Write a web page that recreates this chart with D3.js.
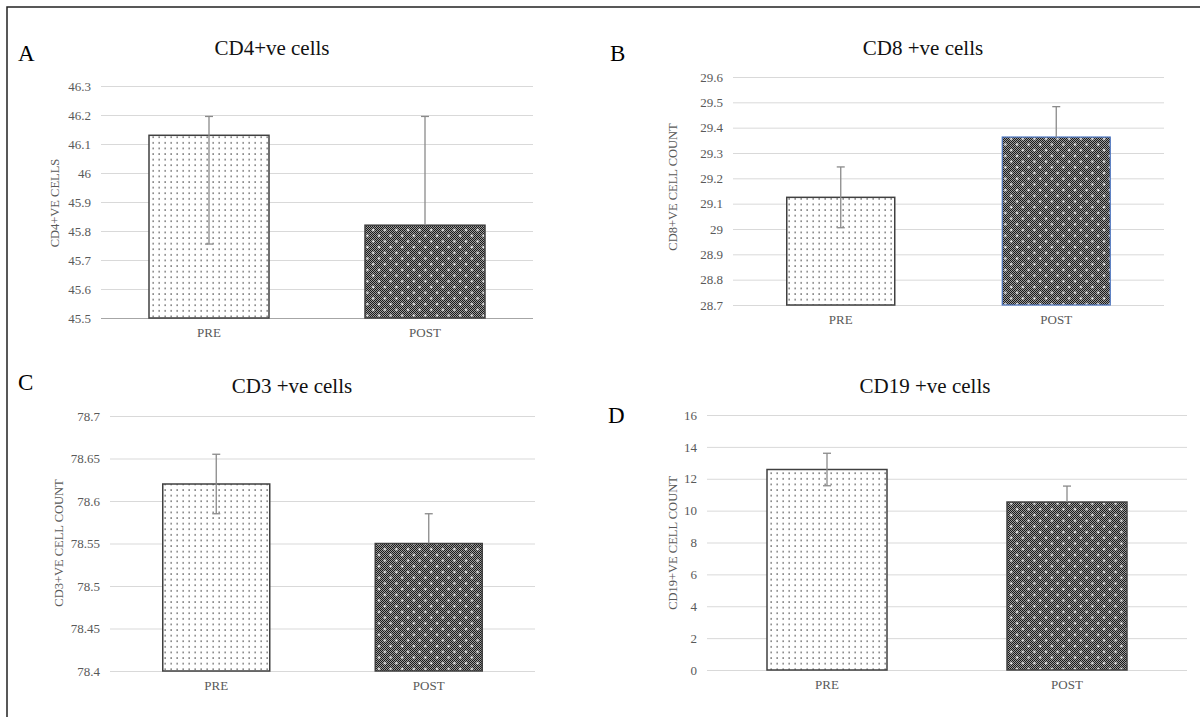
<!DOCTYPE html>
<html>
<head>
<meta charset="utf-8">
<script src="https://cdn.jsdelivr.net/npm/d3@7/dist/d3.min.js"></script>
<style>
  html, body { margin: 0; padding: 0; background: #fff; }
  svg { display: block; }
  text { font-family: "Liberation Serif", "Times New Roman", serif; }
</style>
</head>
<body>
<svg id="chart" width="1200" height="717"></svg>
<script>
// ---------- DATA ----------
const categories = ["PRE", "POST"];

const cd4Title = "CD4+ve cells";
const cd4AxisTitle = "CD4+VE CELLS";
const cd4Values = [46.13, 45.82];
const cd4ErrUp = [0.065, 0.375];
const cd4ErrDown = [0.375, 0];
const cd4Ticks = [45.5, 45.6, 45.7, 45.8, 45.9, 46, 46.1, 46.2, 46.3];

const cd8Title = "CD8 +ve cells";
const cd8AxisTitle = "CD8+VE CELL COUNT";
const cd8Values = [29.125, 29.363];
const cd8ErrUp = [0.12, 0.12];
const cd8ErrDown = [0.12, 0];
const cd8Ticks = [28.7, 28.8, 28.9, 29, 29.1, 29.2, 29.3, 29.4, 29.5, 29.6];

const cd3Title = "CD3 +ve cells";
const cd3AxisTitle = "CD3+VE CELL COUNT";
const cd3Values = [78.62, 78.55];
const cd3ErrUp = [0.035, 0.035];
const cd3ErrDown = [0.035, 0];
const cd3Ticks = [78.4, 78.45, 78.5, 78.55, 78.6, 78.65, 78.7];

const cd19Title = "CD19 +ve cells";
const cd19AxisTitle = "CD19+VE CELL COUNT";
const cd19Values = [12.58, 10.54];
const cd19ErrUp = [1.02, 1.0];
const cd19ErrDown = [1.02, 0];
const cd19Ticks = [0, 2, 4, 6, 8, 10, 12, 14, 16];

const panelLetters = ["A", "B", "C", "D"];

// ---------- LAYOUT ----------
const panels = [
  { letter: panelLetters[0], title: cd4Title, axisTitle: cd4AxisTitle, values: cd4Values, up: cd4ErrUp, down: cd4ErrDown, ticks: cd4Ticks,
    x0: 101, x1: 533, yTop: 86, yBottom: 318, barW: 120, titleX: 272, titleY: 55, letterX: 18, letterY: 61, axTX: 55, axTY: 203, axisColor: "#a6a6a6", blueSecond: false },
  { letter: panelLetters[1], title: cd8Title, axisTitle: cd8AxisTitle, values: cd8Values, up: cd8ErrUp, down: cd8ErrDown, ticks: cd8Ticks,
    x0: 733, x1: 1164, yTop: 77, yBottom: 305, barW: 108, titleX: 923, titleY: 55, letterX: 610, letterY: 61, axTX: 673, axTY: 187, axisColor: "#d9d9d9", blueSecond: true },
  { letter: panelLetters[2], title: cd3Title, axisTitle: cd3AxisTitle, values: cd3Values, up: cd3ErrUp, down: cd3ErrDown, ticks: cd3Ticks,
    x0: 110, x1: 535, yTop: 416, yBottom: 671, barW: 107, titleX: 292, titleY: 393, letterX: 18, letterY: 390, axTX: 59, axTY: 543, axisColor: "#d9d9d9", blueSecond: false },
  { letter: panelLetters[3], title: cd19Title, axisTitle: cd19AxisTitle, values: cd19Values, up: cd19ErrUp, down: cd19ErrDown, ticks: cd19Ticks,
    x0: 707, x1: 1187, yTop: 415, yBottom: 670, barW: 120, titleX: 925, titleY: 393, letterX: 608, letterY: 423, axTX: 673, axTY: 543, axisColor: "#d9d9d9", blueSecond: false }
];

const svg = d3.select("#chart");

// ---------- PATTERNS ----------
const defs = svg.append("defs");
const pDots = defs.append("pattern").attr("id", "preDots")
  .attr("patternUnits", "userSpaceOnUse").attr("width", 6).attr("height", 5.6);
pDots.append("rect").attr("width", 6).attr("height", 5.6).attr("fill", "#ffffff");
pDots.append("rect").attr("x", 2.5).attr("y", 2.2).attr("width", 1.3).attr("height", 1.3).attr("fill", "#3a3a3a");

const pCheck = defs.append("pattern").attr("id", "postChecker")
  .attr("patternUnits", "userSpaceOnUse").attr("width", 2).attr("height", 2);
pCheck.append("rect").attr("width", 2).attr("height", 2).attr("fill", "#9a9a9a");
pCheck.append("rect").attr("x", 0).attr("y", 0).attr("width", 1).attr("height", 1).attr("fill", "#1a1a1a");
pCheck.append("rect").attr("x", 1).attr("y", 1).attr("width", 1).attr("height", 1).attr("fill", "#1a1a1a");

const pWhite = defs.append("pattern").attr("id", "postDots")
  .attr("patternUnits", "userSpaceOnUse").attr("width", 11.6).attr("height", 11.4);
[[2, 2], [7.8, 7.7]].forEach(([cx, cy]) => {
  pWhite.append("rect").attr("x", cx - 0.5).attr("y", cy - 1.3).attr("width", 1).attr("height", 2.6).attr("fill", "#ffffff");
  pWhite.append("rect").attr("x", cx - 1.3).attr("y", cy - 0.5).attr("width", 2.6).attr("height", 1).attr("fill", "#ffffff");
});

// ---------- OUTER BORDER ----------
svg.append("rect").attr("x", 7).attr("y", 7).attr("width", 1220).attr("height", 740)
  .attr("fill", "none").attr("stroke", "#222").attr("stroke-width", 1.5);

const fmt = d => String(+(+d).toFixed(2));

panels.forEach(p => {
  const g = svg.append("g");
  const y = d3.scaleLinear().domain([p.ticks[0], p.ticks[p.ticks.length - 1]]).range([p.yBottom, p.yTop]);
  const x = d3.scaleBand().domain(categories).range([p.x0, p.x1]);

  // gridlines
  const grid = g.append("g").attr("transform", `translate(${p.x0},0)`)
    .call(d3.axisLeft(y).tickValues(p.ticks).tickSize(-(p.x1 - p.x0)).tickFormat(""));
  grid.select(".domain").remove();
  grid.selectAll(".tick line").attr("stroke", "#d9d9d9").attr("stroke-width", 1);
  grid.selectAll(".tick").filter(d => d === p.ticks[0]).select("line").attr("stroke", p.axisColor);

  // tick labels
  const yAx = g.append("g").attr("transform", `translate(${p.x0 - 10},0)`)
    .call(d3.axisLeft(y).tickValues(p.ticks).tickSize(0).tickPadding(0).tickFormat(fmt));
  yAx.select(".domain").remove();
  yAx.selectAll("text").attr("fill", "#595959").style("font-size", "13px")
    .style("font-family", '"Liberation Serif", "Times New Roman", serif');

  // x labels
  const xAx = g.append("g").attr("transform", `translate(0,${p.yBottom + 10})`)
    .call(d3.axisBottom(x).tickSize(0).tickPadding(0));
  xAx.select(".domain").remove();
  xAx.selectAll("text").attr("fill", "#595959").style("font-size", "13px")
    .style("font-family", '"Liberation Serif", "Times New Roman", serif');

  const bx = (c) => x(c) + x.bandwidth() / 2 - p.barW / 2;

  // bars
  const data = categories.map((c, i) => ({ c, i, v: p.values[i], up: p.up[i], down: p.down[i] }));
  data.forEach(d => {
    const top = y(d.v);
    const h = y(p.ticks[0]) - top;
    if (d.i === 0) {
      g.append("rect").attr("x", bx(d.c)).attr("y", top).attr("width", p.barW).attr("height", h)
        .attr("fill", "url(#preDots)").attr("stroke", "#404040").attr("stroke-width", 1.5);
    } else {
      g.append("rect").attr("x", bx(d.c)).attr("y", top).attr("width", p.barW).attr("height", h)
        .attr("fill", "url(#postChecker)");
      g.append("rect").attr("x", bx(d.c)).attr("y", top).attr("width", p.barW).attr("height", h)
        .attr("fill", "url(#postDots)")
        .attr("stroke", p.blueSecond ? "#4a74c0" : "#404040").attr("stroke-width", p.blueSecond ? 1.2 : 1.5);
    }
  });

  // error bars
  data.forEach(d => {
    const cx = x(d.c) + x.bandwidth() / 2;
    const yHi = y(d.v + d.up);
    const yLo = y(d.v - d.down);
    g.append("line").attr("x1", cx).attr("x2", cx).attr("y1", yHi).attr("y2", yLo)
      .attr("stroke", "#8a8a8a").attr("stroke-width", 1.3);
    g.append("line").attr("x1", cx - 4).attr("x2", cx + 4).attr("y1", yHi).attr("y2", yHi)
      .attr("stroke", "#8a8a8a").attr("stroke-width", 1.3);
    if (d.down > 0) {
      g.append("line").attr("x1", cx - 4).attr("x2", cx + 4).attr("y1", yLo).attr("y2", yLo)
        .attr("stroke", "#8a8a8a").attr("stroke-width", 1.3);
    }
  });

  // title
  g.append("text").attr("x", p.titleX).attr("y", p.titleY).attr("text-anchor", "middle")
    .style("font-size", "21px").attr("fill", "#111").text(p.title);

  // panel letter
  g.append("text").attr("x", p.letterX).attr("y", p.letterY)
    .style("font-size", "23px").attr("fill", "#000").text(p.letter);

  // y axis title
  g.append("text").attr("transform", `translate(${p.axTX},${p.axTY}) rotate(-90)`)
    .attr("text-anchor", "middle").attr("dominant-baseline", "central")
    .style("font-size", "12.5px").attr("fill", "#595959").text(p.axisTitle);
});
</script>
</body>
</html>
